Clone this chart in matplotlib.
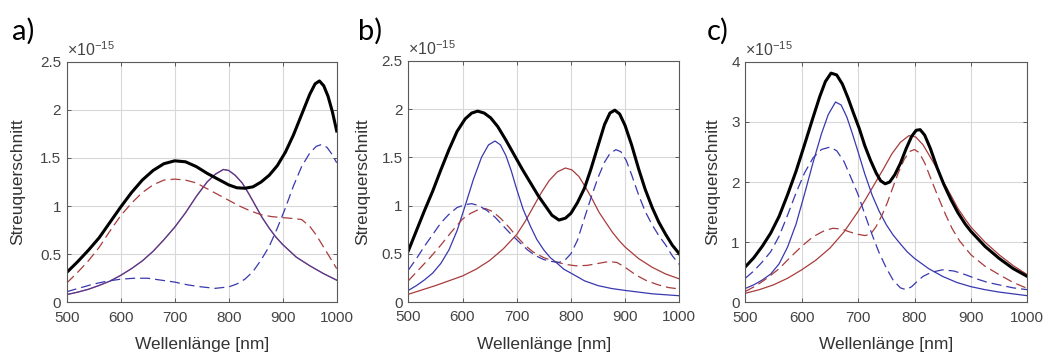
import numpy as np
import matplotlib
matplotlib.use('Agg')
import matplotlib.pyplot as plt
from matplotlib.ticker import FuncFormatter

plt.rcParams['font.family'] = ['Liberation Sans', 'DejaVu Sans']
plt.rcParams['mathtext.default'] = 'regular'

# ── Panel a) ──
a_black_x = [500, 520, 540, 560, 580, 600, 620, 640, 660, 680, 700, 720, 740, 760, 780, 800, 815, 830, 845, 860, 875, 890, 905, 920, 935, 950, 960, 968, 976, 984, 992, 1000]
a_black_y = [0.31, 0.42, 0.54, 0.67, 0.83, 0.99, 1.14, 1.27, 1.37, 1.44, 1.47, 1.46, 1.41, 1.34, 1.28, 1.22, 1.19, 1.185, 1.20, 1.25, 1.32, 1.42, 1.56, 1.74, 1.95, 2.16, 2.27, 2.30, 2.25, 2.14, 1.98, 1.78]
a_solid_x = [500, 520, 540, 560, 580, 600, 620, 640, 660, 680, 700, 720, 740, 760, 775, 790, 800, 812, 825, 837, 850, 862, 875, 887, 900, 925, 950, 975, 1000]
a_solid_y = [0.08, 0.105, 0.135, 0.175, 0.22, 0.28, 0.35, 0.43, 0.53, 0.65, 0.78, 0.93, 1.10, 1.25, 1.33, 1.38, 1.37, 1.32, 1.24, 1.13, 1.00, 0.88, 0.77, 0.68, 0.60, 0.47, 0.38, 0.30, 0.23]
a_rdash_x = [500, 520, 540, 560, 580, 600, 620, 640, 660, 680, 700, 720, 740, 760, 780, 800, 820, 840, 860, 880, 900, 920, 935, 950, 962, 975, 987, 1000]
a_rdash_y = [0.20, 0.31, 0.43, 0.57, 0.74, 0.90, 1.03, 1.14, 1.22, 1.27, 1.28, 1.27, 1.24, 1.18, 1.12, 1.06, 1.00, 0.95, 0.91, 0.89, 0.88, 0.87, 0.86, 0.79, 0.70, 0.58, 0.47, 0.35]
a_bdash_x = [500, 525, 550, 575, 600, 625, 650, 675, 700, 725, 750, 775, 800, 815, 830, 845, 860, 875, 890, 905, 920, 935, 950, 962, 972, 982, 991, 1000]
a_bdash_y = [0.11, 0.15, 0.19, 0.22, 0.24, 0.25, 0.25, 0.23, 0.21, 0.18, 0.16, 0.145, 0.16, 0.19, 0.24, 0.32, 0.44, 0.58, 0.77, 0.98, 1.21, 1.41, 1.55, 1.62, 1.64, 1.61, 1.54, 1.45]

# ── Panel b) ──
b_black_x = [500, 515, 530, 545, 560, 575, 590, 605, 617, 628, 640, 652, 665, 680, 695, 710, 725, 740, 755, 765, 778, 790, 800, 812, 825, 837, 850, 862, 872, 881, 890, 900, 912, 925, 937, 950, 962, 975, 987, 1000]
b_black_y = [0.53, 0.74, 0.95, 1.15, 1.37, 1.58, 1.77, 1.90, 1.96, 1.98, 1.96, 1.91, 1.82, 1.68, 1.53, 1.38, 1.24, 1.10, 0.98, 0.90, 0.85, 0.87, 0.92, 1.03, 1.18, 1.38, 1.62, 1.84, 1.96, 1.99, 1.95, 1.83, 1.63, 1.38, 1.17, 0.98, 0.83, 0.70, 0.59, 0.50]
b_bsol_x = [500, 515, 530, 545, 560, 575, 590, 605, 620, 635, 648, 660, 670, 680, 690, 700, 712, 725, 737, 750, 762, 775, 787, 800, 825, 850, 875, 900, 950, 1000]
b_bsol_y = [0.12, 0.17, 0.23, 0.30, 0.40, 0.54, 0.74, 1.00, 1.27, 1.50, 1.63, 1.67, 1.63, 1.52, 1.36, 1.17, 0.96, 0.79, 0.65, 0.54, 0.46, 0.40, 0.34, 0.30, 0.22, 0.17, 0.14, 0.12, 0.085, 0.065]
b_rsol_x = [500, 550, 600, 625, 650, 675, 700, 715, 730, 745, 760, 775, 790, 802, 815, 827, 840, 852, 865, 877, 890, 900, 925, 950, 975, 1000]
b_rsol_y = [0.08, 0.17, 0.27, 0.34, 0.43, 0.55, 0.70, 0.83, 0.98, 1.13, 1.26, 1.35, 1.39, 1.37, 1.30, 1.19, 1.06, 0.93, 0.82, 0.72, 0.63, 0.57, 0.45, 0.36, 0.29, 0.24]
b_bdash_x = [500, 515, 530, 545, 560, 575, 590, 605, 617, 630, 645, 660, 675, 690, 705, 720, 735, 750, 765, 778, 790, 800, 812, 825, 837, 850, 862, 872, 883, 892, 902, 912, 925, 937, 950, 962, 975, 987, 1000]
b_bdash_y = [0.33, 0.45, 0.58, 0.70, 0.82, 0.91, 0.98, 1.01, 1.02, 1.00, 0.95, 0.88, 0.79, 0.70, 0.62, 0.54, 0.48, 0.44, 0.42, 0.41, 0.44, 0.50, 0.64, 0.87, 1.08, 1.29, 1.45, 1.54, 1.58, 1.56, 1.47, 1.32, 1.11, 0.94, 0.80, 0.69, 0.59, 0.48, 0.39]
b_rdash_x = [500, 520, 540, 560, 580, 600, 615, 630, 642, 655, 670, 685, 700, 715, 730, 750, 770, 790, 810, 830, 850, 870, 885, 900, 920, 940, 960, 980, 1000]
b_rdash_y = [0.22, 0.34, 0.46, 0.59, 0.73, 0.86, 0.92, 0.96, 0.97, 0.94, 0.87, 0.78, 0.68, 0.59, 0.52, 0.46, 0.42, 0.39, 0.375, 0.38, 0.40, 0.42, 0.41, 0.36, 0.28, 0.22, 0.18, 0.15, 0.135]

# ── Panel c) ──
c_black_x = [500, 515, 530, 545, 560, 575, 590, 605, 620, 632, 642, 652, 662, 672, 682, 692, 702, 712, 722, 732, 740, 748, 756, 765, 775, 785, 795, 803, 810, 818, 828, 840, 852, 865, 877, 890, 900, 925, 950, 975, 1000]
c_black_y = [0.59, 0.74, 0.93, 1.15, 1.43, 1.79, 2.18, 2.62, 3.07, 3.42, 3.67, 3.81, 3.78, 3.63, 3.40, 3.14, 2.89, 2.60, 2.36, 2.15, 2.02, 1.97, 2.00, 2.12, 2.31, 2.55, 2.76, 2.86, 2.87, 2.78, 2.56, 2.24, 1.96, 1.70, 1.49, 1.30, 1.18, 0.93, 0.73, 0.56, 0.43]
c_bsol_x = [500, 515, 530, 545, 560, 575, 590, 605, 620, 635, 647, 660, 670, 680, 690, 700, 712, 725, 737, 750, 762, 775, 787, 800, 825, 850, 875, 900, 925, 950, 975, 1000]
c_bsol_y = [0.23, 0.29, 0.37, 0.47, 0.64, 0.92, 1.30, 1.80, 2.32, 2.80, 3.12, 3.33, 3.28, 3.08, 2.80, 2.50, 2.13, 1.78, 1.52, 1.29, 1.12, 0.97, 0.84, 0.73, 0.56, 0.43, 0.33, 0.26, 0.21, 0.17, 0.14, 0.11]
c_rsol_x = [500, 525, 550, 575, 600, 625, 650, 675, 700, 715, 730, 745, 760, 775, 790, 802, 815, 827, 840, 852, 865, 877, 890, 900, 925, 950, 975, 1000]
c_rsol_y = [0.15, 0.21, 0.29, 0.40, 0.54, 0.70, 0.90, 1.17, 1.51, 1.74, 1.98, 2.22, 2.47, 2.66, 2.77, 2.75, 2.62, 2.43, 2.22, 1.99, 1.77, 1.56, 1.38, 1.25, 1.00, 0.79, 0.61, 0.46]
c_bdash_x = [500, 515, 530, 545, 560, 575, 590, 605, 620, 635, 650, 662, 675, 687, 700, 712, 725, 737, 750, 762, 775, 785, 795, 805, 815, 830, 850, 870, 890, 910, 930, 950, 975, 1000]
c_bdash_y = [0.40, 0.52, 0.67, 0.84, 1.10, 1.45, 1.82, 2.15, 2.40, 2.54, 2.58, 2.52, 2.34, 2.08, 1.79, 1.46, 1.12, 0.83, 0.57, 0.37, 0.24, 0.21, 0.26, 0.35, 0.43, 0.50, 0.54, 0.52, 0.46, 0.39, 0.33, 0.29, 0.24, 0.21]
c_rdash_x = [500, 520, 540, 560, 580, 600, 620, 640, 655, 670, 685, 700, 712, 722, 732, 742, 752, 762, 772, 782, 792, 800, 808, 818, 830, 842, 855, 867, 880, 900, 925, 950, 975, 1000]
c_rdash_y = [0.18, 0.28, 0.41, 0.56, 0.75, 0.93, 1.09, 1.19, 1.23, 1.22, 1.17, 1.13, 1.11, 1.13, 1.26, 1.44, 1.66, 1.92, 2.17, 2.38, 2.51, 2.54, 2.49, 2.32, 2.03, 1.75, 1.46, 1.22, 1.02, 0.79, 0.60, 0.46, 0.33, 0.23]

panel_labels = ['a)', 'b)', 'c)']
y_limits = [2.5, 2.5, 4]
y_ticks = [[0, 0.5, 1, 1.5, 2, 2.5], [0, 0.5, 1, 1.5, 2, 2.5], [0, 1, 2, 3, 4]]
x_ticks = [500, 600, 700, 800, 900, 1000]

blue = '#3838b0'
red = '#a83c3c'
dash = (8, 4)

W, H = 1043, 356
fig = plt.figure(figsize=(W / 100, H / 100), dpi=100)
# axes boxes in pixels: left, top, right, bottom
boxes = [(66.7, 61.7, 336.7, 302.3), (408.3, 61.0, 679.3, 302.0), (745.3, 61.7, 1027.3, 302.3)]
axes = [fig.add_axes([l / W, 1 - b / H, (r - l) / W, (b - t) / H]) for l, t, r, b in boxes]
ylabel_px = [-42, -38, -25]      # right edge of the y label, from the axis
label_px = [12, 358, 707]        # left edge of a) b) c)

# a) red and blue solid curves coincide
ax = axes[0]
ax.plot(a_solid_x, a_solid_y, color=red, lw=0.9)
ax.plot(a_solid_x, a_solid_y, color=blue, lw=0.9, alpha=0.75)
ax.plot(a_rdash_x, a_rdash_y, color=red, lw=0.9, dashes=dash)
ax.plot(a_bdash_x, a_bdash_y, color=blue, lw=0.9, dashes=dash)
ax.plot(a_black_x, a_black_y, color='black', lw=2.2)

ax = axes[1]
ax.plot(b_rsol_x, b_rsol_y, color=red, lw=0.9)
ax.plot(b_bsol_x, b_bsol_y, color=blue, lw=0.9)
ax.plot(b_rdash_x, b_rdash_y, color=red, lw=0.9, dashes=dash)
ax.plot(b_bdash_x, b_bdash_y, color=blue, lw=0.9, dashes=dash)
ax.plot(b_black_x, b_black_y, color='black', lw=2.2)

ax = axes[2]
ax.plot(c_rsol_x, c_rsol_y, color=red, lw=0.9)
ax.plot(c_bsol_x, c_bsol_y, color=blue, lw=0.9)
ax.plot(c_rdash_x, c_rdash_y, color=red, lw=0.9, dashes=dash)
ax.plot(c_bdash_x, c_bdash_y, color=blue, lw=0.9, dashes=dash)
ax.plot(c_black_x, c_black_y, color='black', lw=2.2)

fmt = FuncFormatter(lambda v, p: f'{v:g}')
for i, ax in enumerate(axes):
    l, t, r, b = boxes[i]
    ax.set_xlim(500, 1000)
    ax.set_ylim(0, y_limits[i])
    ax.set_xticks(x_ticks)
    ax.set_yticks(y_ticks[i])
    ax.yaxis.set_major_formatter(fmt)
    ax.grid(True, color='#d8d8d8', lw=0.8)
    ax.set_axisbelow(True)
    ax.tick_params(direction='in', length=3, width=0.6, top=True, right=True,
                   labelsize=11, colors='#444444')
    ax.tick_params(axis='x', pad=6)
    ax.tick_params(axis='y', pad=4)
    for s in ax.spines.values():
        s.set_color('#5a5a5a')
        s.set_linewidth(0.8)
    ax.set_xlabel('Wellenlänge [nm]', fontsize=12.5, color='#333333', va='top')
    ax.xaxis.set_label_coords(0.5, -35 / (b - t))
    ax.set_ylabel('Streuquerschnitt', fontsize=12.5, color='#333333')
    ax.yaxis.set_label_coords(ylabel_px[i] / (r - l), 0.5)
    ax.text(0.0, 1.012, r'$\times$10$^{-15}$', transform=ax.transAxes,
            fontsize=11.5, color='#444444', ha='left', va='bottom')
    fig.text(label_px[i] / W, 1 - 31 / H, panel_labels[i], fontsize=21,
             family=['Lato', 'DejaVu Sans'], ha='left', va='center')

plt.savefig('out.png', dpi=100)
